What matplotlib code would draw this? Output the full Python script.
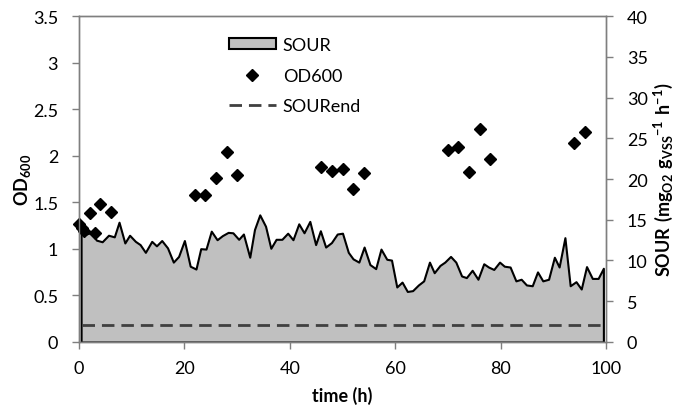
import numpy as np
import matplotlib
matplotlib.use('Agg')
import matplotlib.pyplot as plt
from matplotlib.patches import Patch
from matplotlib.lines import Line2D

# SOUR curve (right axis)
sour_t = [0.4, 1.4, 2.3, 3.3, 4.4, 5.6, 6.7, 7.6, 8.7, 9.6, 10.7, 11.6, 12.6, 13.8,
          14.7, 15.7, 16.8, 17.9, 18.9, 20.0, 21.1, 22.2, 23.1, 24.1, 25.1, 26.2,
          27.2, 28.3, 29.2, 30.3, 31.2, 32.4, 33.3, 34.3, 35.4, 36.4, 37.4, 38.5,
          39.6, 40.6, 41.7, 42.7, 43.8, 44.9, 45.8, 46.8, 47.9, 49.0, 50.0, 51.1,
          52.0, 53.1, 54.1, 55.2, 56.3, 57.3, 58.4, 59.3, 60.3, 61.3, 62.3, 63.3,
          64.4, 65.4, 66.5, 67.4, 68.5, 69.4, 70.5, 71.5, 72.6, 73.5, 74.6, 75.7,
          76.8, 77.7, 78.7, 79.8, 80.7, 81.8, 82.9, 83.9, 84.9, 86.0, 87.0, 88.0,
          89.1, 90.2, 91.1, 92.2, 93.2, 94.3, 95.3, 96.3, 97.4, 98.5, 99.5]
sour = [13.9, 13.25, 13.45, 12.5, 12.3, 13.1, 12.9, 14.7, 12.15, 13.1, 12.35, 11.95,
        11.0, 12.35, 11.8, 12.45, 11.55, 9.8, 10.5, 12.45, 9.3, 8.95, 11.45, 11.4,
        13.6, 12.55, 13.05, 13.45, 13.4, 12.6, 13.25, 10.4, 13.8, 15.6, 14.2, 11.5,
        12.6, 12.6, 13.35, 12.55, 14.5, 13.4, 14.8, 11.95, 13.65, 11.65, 12.2, 13.25,
        13.35, 11.0, 10.2, 9.8, 11.65, 9.5, 9.0, 11.4, 10.15, 10.05, 6.75, 7.35,
        6.2, 6.3, 7.0, 7.5, 9.8, 8.5, 9.4, 9.8, 10.5, 9.8, 8.1, 7.9, 8.8, 7.7, 9.6,
        9.2, 8.9, 9.8, 9.3, 9.2, 7.5, 7.7, 7.0, 6.9, 8.6, 7.5, 7.7, 10.4, 9.2, 12.8,
        6.9, 7.4, 6.5, 9.25, 7.8, 7.8, 9.05]

# OD600 points (left axis)
od_t = [0, 0.5, 1, 2, 3, 4, 6, 22, 24, 26, 28, 30, 46, 48, 50, 52, 54,
        70, 72, 74, 76, 78, 94, 96]
od = [1.27, 1.22, 1.19, 1.39, 1.17, 1.48, 1.40, 1.58, 1.58, 1.76, 2.04, 1.79,
      1.88, 1.84, 1.86, 1.64, 1.81, 2.06, 2.09, 1.83, 2.29, 1.97, 2.14, 2.25]

sour_end = 2.1
sour_end_t = [0.5, 99.5]

plt.rcParams['font.family'] = ['Lato', 'DejaVu Sans']
plt.rcParams['mathtext.fontset'] = 'custom'
plt.rcParams['mathtext.rm'] = 'Lato'
plt.rcParams['mathtext.bf'] = 'Lato:bold'

fig = plt.figure(figsize=(6.85, 4.06), dpi=100)
ax = fig.add_axes([0.1153, 0.1552, 0.7694, 0.8029])
ax2 = ax.twinx()

ax2.fill_between(sour_t, sour, 0, facecolor='#c0c0c0', edgecolor='black', lw=1.5)
ax2.plot(sour_end_t, [sour_end, sour_end], color='#404040', lw=2, dashes=(4.5, 2.5))
ax2.set_ylim(0, 40)
ax2.set_yticks(range(0, 41, 5))

ax.set_zorder(ax2.get_zorder() + 1)
ax.patch.set_visible(False)
ax.plot(od_t, od, 'D', color='black', ms=6.2, ls='none', clip_on=False)
ax.set_xlim(0, 100)
ax.set_ylim(0, 3.5)
ax.set_xticks(range(0, 101, 20))
ax.set_yticks([0, 0.5, 1, 1.5, 2, 2.5, 3, 3.5])
ax.set_yticklabels(['0', '0.5', '1', '1.5', '2', '2.5', '3', '3.5'])

for a in (ax, ax2):
    for s in a.spines.values():
        s.set_color('#7f7f7f')
        s.set_linewidth(1)
    a.tick_params(direction='out', length=5, width=1, color='#7f7f7f',
                  labelsize=13, pad=10)
ax.tick_params(axis='x', pad=8)

ax.set_xlabel('time (h)', fontsize=13, fontweight='bold', labelpad=7)
ax.set_ylabel(r'$\mathbf{OD_{600}}$', fontsize=13, labelpad=0)
ax2.set_ylabel(r'$\mathbf{SOUR\ (mg_{O2}\ g_{VSS}{}^{-1}\ h^{-1})}$', fontsize=13, labelpad=3)

handles = [Patch(facecolor='#c0c0c0', edgecolor='black', lw=1.5),
           Line2D([], [], marker='D', color='black', ms=6.2, ls='none'),
           Line2D([], [], color='#404040', lw=2, dashes=(4.5, 2.5))]
ax.legend(handles, ['SOUR', 'OD600', 'SOURend'], loc='upper left',
          bbox_to_anchor=(0.253, 0.985), frameon=False, fontsize=13,
          handlelength=2.6, handleheight=0.55, labelspacing=0.8, handletextpad=0.4)

fig.savefig('out.png', dpi=100)
